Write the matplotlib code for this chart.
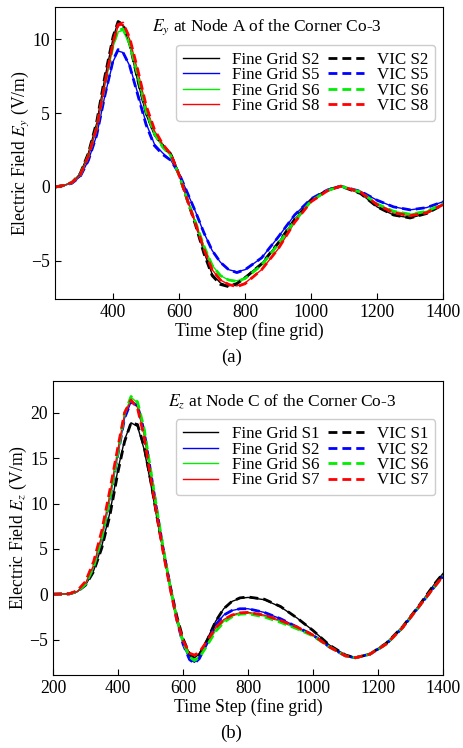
import matplotlib
matplotlib.use("Agg")
import matplotlib.pyplot as plt

plt.rcParams["font.family"] = ["Liberation Serif", "DejaVu Serif"]
plt.rcParams["mathtext.fontset"] = "stix"
plt.rcParams["font.size"] = 12.5

# ---- panel (a): E_y at Node A ----
t_a = [225, 250, 275, 300, 325, 350, 375, 400, 415, 430, 450, 475, 500, 525,
       550, 575, 600, 625, 650, 675, 700, 725, 750, 775, 800, 850, 900, 950,
       1000, 1050, 1090, 1150, 1200, 1250, 1300, 1350, 1400]
fine_a_s2 = [0.0, 0.1, 0.3, 0.9, 2.3, 4.3, 7.4, 10.1, 11.2, 10.9, 9.6, 7.1, 4.9, 3.5,
             2.8, 2.3, 0.9, -0.8, -2.5, -4.4, -5.9, -6.5, -6.7, -6.5, -6.1, -5.2, -3.8, -2.2,
             -0.9, -0.2, 0.05, -0.45, -1.35, -1.9, -2.1, -1.8, -1.2]
fine_a_s5 = [0.0, 0.1, 0.25, 0.7, 1.8, 3.5, 6.2, 8.5, 9.2, 9.1, 8.2, 6.3, 4.3, 2.9,
             2.3, 1.8, 0.9, -0.4, -1.7, -3.1, -4.3, -5.1, -5.6, -5.75, -5.6, -4.8, -3.4, -1.9,
             -0.8, -0.2, 0.05, -0.3, -0.9, -1.35, -1.55, -1.4, -1.0]
fine_a_s6 = [0.0, 0.1, 0.3, 0.8, 2.1, 4.0, 6.9, 9.5, 10.5, 10.6, 9.6, 7.4, 5.1, 3.6,
             2.7, 2.1, 0.8, -0.9, -2.4, -4.0, -5.3, -6.0, -6.3, -6.35, -6.2, -5.3, -3.9, -2.3,
             -0.95, -0.25, 0.05, -0.35, -1.15, -1.65, -1.85, -1.65, -1.15]
fine_a_s8 = [0.0, 0.1, 0.3, 0.8, 2.1, 4.0, 7.0, 9.7, 10.9, 11.0, 10.0, 7.8, 5.4, 3.8,
             2.9, 2.2, 0.8, -0.9, -2.5, -4.2, -5.6, -6.3, -6.6, -6.7, -6.5, -5.6, -4.2, -2.4,
             -1.0, -0.25, 0.05, -0.35, -1.2, -1.75, -1.95, -1.75, -1.2]
vic_a_s2 = [0.0, 0.1, 0.3, 0.9, 2.3, 4.4, 7.5, 10.2, 11.2, 11.0, 9.7, 7.2, 5.0, 3.6,
            2.8, 2.2, 0.8, -0.9, -2.6, -4.5, -6.0, -6.6, -6.75, -6.55, -6.15, -5.2, -3.8, -2.2,
            -0.9, -0.2, 0.05, -0.45, -1.35, -1.9, -2.1, -1.8, -1.2]
vic_a_s5 = [0.0, 0.1, 0.25, 0.7, 1.8, 3.5, 6.2, 8.6, 9.3, 9.1, 8.2, 6.2, 4.2, 2.8,
            2.2, 1.8, 0.9, -0.4, -1.7, -3.1, -4.3, -5.1, -5.6, -5.8, -5.6, -4.8, -3.4, -1.9,
            -0.8, -0.2, 0.05, -0.3, -0.9, -1.35, -1.55, -1.4, -1.0]
vic_a_s6 = [0.0, 0.1, 0.3, 0.8, 2.1, 4.0, 6.9, 9.6, 10.6, 10.7, 9.7, 7.5, 5.1, 3.6,
            2.7, 2.1, 0.8, -0.9, -2.4, -4.0, -5.3, -6.0, -6.3, -6.4, -6.2, -5.3, -3.9, -2.3,
            -0.95, -0.25, 0.05, -0.35, -1.15, -1.65, -1.85, -1.65, -1.15]
vic_a_s8 = [0.0, 0.1, 0.3, 0.8, 2.1, 4.0, 7.0, 9.8, 11.0, 11.1, 10.1, 7.9, 5.5, 3.9,
            2.9, 2.2, 0.8, -0.9, -2.5, -4.2, -5.6, -6.3, -6.6, -6.75, -6.55, -5.6, -4.2, -2.4,
            -1.0, -0.25, 0.05, -0.35, -1.2, -1.75, -1.95, -1.75, -1.2]

# ---- panel (b): E_z at Node C ----
t_b = [200, 250, 275, 300, 325, 350, 375, 400, 420, 440, 460, 480, 500, 520,
       540, 560, 580, 600, 620, 635, 650, 675, 700, 725, 750, 775, 800, 850,
       900, 950, 1000, 1050, 1100, 1130, 1175, 1225, 1275, 1325, 1375, 1400]
fine_b_s1 = [0.0, 0.05, 0.3, 1.0, 2.6, 5.3, 9.0, 13.8, 17.0, 18.9, 18.5, 16.0, 12.3, 8.3,
             4.5, 1.0, -2.3, -5.0, -6.6, -7.0, -6.6, -4.9, -3.0, -1.6, -0.8, -0.45, -0.35, -0.6,
             -1.4, -2.6, -4.0, -5.6, -6.7, -7.0, -6.6, -5.4, -3.6, -1.3, 1.2, 2.3]
fine_b_s2 = [0.0, 0.05, 0.3, 1.1, 3.0, 6.1, 10.5, 15.5, 19.4, 21.2, 20.7, 17.9, 13.5, 9.0,
             4.8, 0.9, -2.7, -5.5, -7.2, -7.5, -7.0, -5.2, -3.4, -2.3, -1.8, -1.6, -1.6, -2.0,
             -2.7, -3.6, -4.5, -5.8, -6.8, -7.0, -6.6, -5.5, -3.7, -1.4, 0.9, 2.0]
fine_b_s6 = [0.0, 0.05, 0.3, 1.1, 3.0, 6.2, 10.6, 15.7, 19.8, 21.7, 21.1, 18.2, 13.7, 9.1,
             4.8, 0.9, -2.6, -5.3, -6.9, -7.2, -6.9, -5.5, -4.0, -3.0, -2.4, -2.15, -2.1, -2.4,
             -3.0, -3.8, -4.6, -5.8, -6.8, -7.0, -6.6, -5.5, -3.7, -1.4, 0.9, 2.0]
fine_b_s7 = [0.0, 0.05, 0.3, 1.2, 3.2, 6.5, 11.0, 16.0, 19.8, 21.4, 20.6, 17.6, 13.2, 8.8,
             4.6, 0.8, -2.6, -5.1, -6.5, -6.8, -6.5, -5.1, -3.7, -2.8, -2.3, -2.05, -2.0, -2.3,
             -2.9, -3.6, -4.5, -5.8, -6.8, -7.0, -6.6, -5.5, -3.7, -1.4, 0.9, 2.0]
vic_b_s1 = [0.0, 0.05, 0.3, 1.0, 2.5, 5.1, 8.7, 13.5, 16.8, 18.9, 18.7, 16.3, 12.6, 8.5,
            4.6, 1.0, -2.3, -4.9, -6.6, -7.1, -6.7, -5.0, -3.0, -1.6, -0.8, -0.4, -0.3, -0.55,
            -1.35, -2.6, -4.0, -5.6, -6.7, -7.0, -6.6, -5.4, -3.6, -1.3, 1.2, 2.3]
vic_b_s2 = [0.0, 0.05, 0.3, 1.1, 3.0, 6.1, 10.5, 15.5, 19.4, 21.2, 20.8, 18.0, 13.6, 9.1,
            4.8, 0.9, -2.7, -5.5, -7.2, -7.6, -7.1, -5.3, -3.4, -2.3, -1.8, -1.6, -1.6, -2.0,
            -2.7, -3.6, -4.5, -5.8, -6.8, -7.0, -6.6, -5.5, -3.7, -1.4, 0.9, 2.0]
vic_b_s6 = [0.0, 0.05, 0.3, 1.1, 3.0, 6.2, 10.6, 15.7, 19.9, 21.8, 21.2, 18.3, 13.8, 9.2,
            4.9, 0.9, -2.6, -5.3, -6.9, -7.3, -7.0, -5.6, -4.1, -3.1, -2.5, -2.2, -2.15, -2.5,
            -3.1, -3.8, -4.6, -5.8, -6.8, -7.0, -6.6, -5.5, -3.7, -1.4, 0.9, 2.0]
vic_b_s7 = [0.0, 0.05, 0.4, 1.4, 3.6, 7.0, 11.5, 16.3, 20.0, 21.4, 20.5, 17.4, 13.0, 8.6,
            4.4, 0.7, -2.7, -5.1, -6.5, -6.7, -6.4, -5.1, -3.7, -2.8, -2.3, -2.05, -2.0, -2.3,
            -2.9, -3.6, -4.5, -5.8, -6.8, -7.0, -6.6, -5.5, -3.7, -1.4, 0.9, 2.0]

colors = ["black", "blue", "#00ee00", "red"]


def draw_panel(ax, t, fine, vic, names, title, ylabel, xlim, ylim, yticks, title_x):
    handles = []
    for vals, name, c in zip(fine, names, colors):
        (h,) = ax.plot(t, vals, color=c, lw=1.0, label="Fine Grid " + name)
        handles.append(h)
    for vals, name, c in zip(vic, names, colors):
        (h,) = ax.plot(t, vals, color=c, lw=2.0, ls=(0, (3.2, 1.8)), label="VIC " + name)
        handles.append(h)
    ax.set_xlim(*xlim)
    ax.set_ylim(*ylim)
    ax.set_yticks(yticks)
    ax.tick_params(direction="in", length=4, labelsize=12.7)
    ax.set_xlabel("Time Step (fine grid)", fontsize=12.7, labelpad=1)
    ax.set_ylabel(ylabel, fontsize=12.7, labelpad=0)
    ax.text(title_x, 0.93, title, transform=ax.transAxes, ha="center", va="center",
            fontsize=12.5)
    leg = ax.legend(handles=handles, ncol=2, loc="upper right",
                    bbox_to_anchor=(0.98, 0.87), borderaxespad=0, fontsize=12.2,
                    handlelength=2.1, columnspacing=0.5, labelspacing=-0.03,
                    handletextpad=0.8, borderpad=0.4, fancybox=True, framealpha=1)
    leg.get_frame().set_edgecolor("#cccccc")


fig = plt.figure(figsize=(4.63, 7.48), dpi=100)

ax1 = fig.add_axes([0.119, 0.600, 0.838, 0.391])
draw_panel(ax1, t_a, [fine_a_s2, fine_a_s5, fine_a_s6, fine_a_s8],
           [vic_a_s2, vic_a_s5, vic_a_s6, vic_a_s8], ["S2", "S5", "S6", "S8"],
           r"$E_y$ at Node A of the Corner Co-3", r"Electric Field $E_y$ (V/m)",
           (224, 1400), (-7.6, 12.2), [-5, 0, 5, 10], 0.546)
ax1.set_xticks([400, 600, 800, 1000, 1200, 1400])

ax2 = fig.add_axes([0.1145, 0.0976, 0.8425, 0.393])
draw_panel(ax2, t_b, [fine_b_s1, fine_b_s2, fine_b_s6, fine_b_s7],
           [vic_b_s1, vic_b_s2, vic_b_s6, vic_b_s7], ["S1", "S2", "S6", "S7"],
           r"$E_z$ at Node C of the Corner Co-3", r"Electric Field $E_z$ (V/m)",
           (200, 1400), (-8.9, 23.5), [-5, 0, 5, 10, 15, 20], 0.587)
ax2.set_xticks([200, 400, 600, 800, 1000, 1200, 1400])

fig.text(0.5, 1 - 357 / 748, "(a)", ha="center", va="center", fontsize=13.5)
fig.text(0.5, 1 - 733 / 748, "(b)", ha="center", va="center", fontsize=13.5)

fig.savefig("out.png", dpi=100)
